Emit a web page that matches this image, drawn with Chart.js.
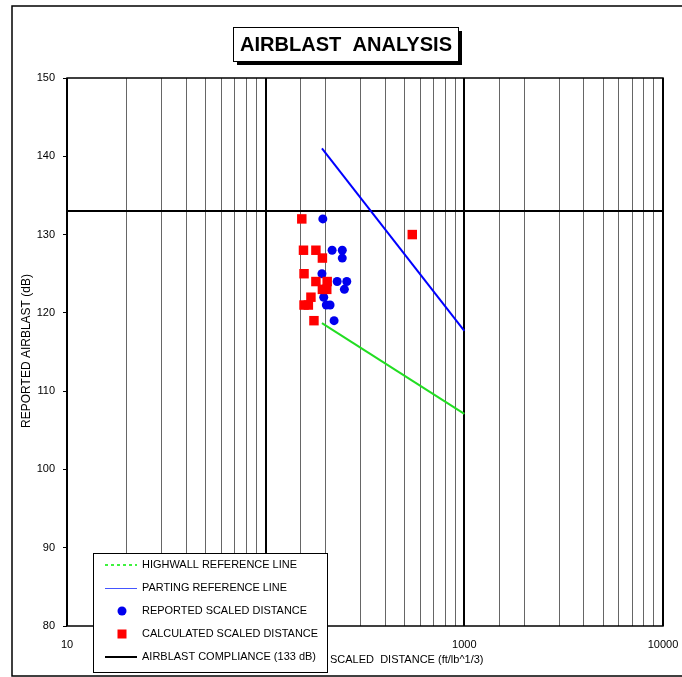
<!DOCTYPE html>
<html>
<head>
<meta charset="utf-8">
<script src="https://cdn.jsdelivr.net/npm/chart.js@4.4.1/dist/chart.umd.min.js"></script>
<style>
  html, body { margin: 0; padding: 0; background: #fff; }
  #wrap { width: 682px; height: 677px; }
</style>
</head>
<body>
<div id="wrap"><canvas id="blastChart" width="682" height="677"></canvas></div>
<script>
// scaled distance (ft/lb^1/3) vs reported airblast (dB)
const reportedX = [194, 216, 243, 243, 192, 229, 256, 249, 196, 202, 211, 221];
const reportedY = [132, 128, 128, 127, 125, 124, 124, 123, 122, 121, 121, 119];

const calculatedX = [152, 547, 155, 179, 193, 156, 179, 204, 193, 203, 169, 156, 164, 175];
const calculatedY = [132, 130, 128, 128, 127, 125, 124, 124, 123, 123, 122, 121, 121, 119];

const highwallX = [192, 1000];
const highwallY = [118.7, 107.1];
const partingX = [192, 1000];
const partingY = [141, 117.7];
const complianceX = [10, 10000];
const complianceY = [133, 133];

const xTickLabels = [10, 100, 1000, 10000];
const yTicks = [80, 90, 100, 110, 120, 130, 140, 150];

const legendLabels = [
    'HIGHWALL REFERENCE LINE',
    'PARTING REFERENCE LINE',
    'REPORTED SCALED DISTANCE',
    'CALCULATED SCALED DISTANCE',
    'AIRBLAST COMPLIANCE (133 dB)'
];

const FONT = '"Liberation Sans", Arial, sans-serif';

function pts(xs, ys) {
    return xs.map((x, i) => ({ x: x, y: ys[i] }));
}

function isDecade(v) {
    const l = Math.log10(v);
    return Math.abs(l - Math.round(l)) < 1e-6;
}

const decorPlugin = {
    id: 'decor',
    beforeDraw(chart) {
        const c = chart.ctx;
        c.save();
        c.fillStyle = '#fff';
        c.fillRect(0, 0, chart.width, chart.height);
        c.restore();
    },
    afterDraw(chart) {
        const c = chart.ctx;
        const a = chart.chartArea;
        c.save();

        // plot border
        c.strokeStyle = '#000';
        c.lineWidth = 1.5;
        c.strokeRect(a.left, a.top, a.right - a.left, a.bottom - a.top);

        // outer frame
        c.lineWidth = 1.5;
        c.strokeRect(12, 6, 700, 670);

        // title box with shadow
        c.fillStyle = '#000';
        c.fillRect(237, 31, 225, 34);
        c.fillStyle = '#fff';
        c.fillRect(233, 27, 225, 34);
        c.lineWidth = 1;
        c.strokeRect(233.5, 27.5, 225, 34);
        c.fillStyle = '#000';
        c.font = 'bold 21px ' + FONT;
        c.textAlign = 'center';
        c.textBaseline = 'middle';
        c.fillText('AIRBLAST  ANALYSIS', 346, 45, 212);

        // axis titles
        c.font = '11px ' + FONT;
        c.textAlign = 'left';
        c.fillText('SCALED  DISTANCE (ft/lb^1/3)', 330, 660, 156);
        c.save();
        c.translate(27, 351);
        c.rotate(-Math.PI / 2);
        c.textAlign = 'center';
        c.font = '12px ' + FONT;
        c.fillText('REPORTED AIRBLAST (dB)', 0, 0, 158);
        c.restore();

        // legend box
        c.fillStyle = '#fff';
        c.fillRect(93, 553, 234, 120);
        c.strokeStyle = '#000';
        c.lineWidth = 1;
        c.strokeRect(93.5, 553.5, 234, 119);

        const rows = [565, 588, 611, 634, 657];
        const widths = [155, 145, 165, 176, 174];
        c.font = '11px ' + FONT;
        c.fillStyle = '#000';
        c.textAlign = 'left';
        c.textBaseline = 'middle';
        legendLabels.forEach((txt, i) => {
            c.fillText(txt, 142, rows[i], widths[i]);
        });

        // symbols
        c.beginPath();
        c.strokeStyle = '#00ee00';
        c.lineWidth = 1.5;
        c.setLineDash([3, 3]);
        c.moveTo(105, rows[0]);
        c.lineTo(137, rows[0]);
        c.stroke();
        c.setLineDash([]);

        c.beginPath();
        c.strokeStyle = '#4455ff';
        c.lineWidth = 1;
        c.moveTo(105, rows[1] + 0.5);
        c.lineTo(137, rows[1] + 0.5);
        c.stroke();

        c.beginPath();
        c.fillStyle = '#0000ee';
        c.arc(122, rows[2], 4.5, 0, Math.PI * 2);
        c.fill();

        c.fillStyle = '#ff0000';
        c.fillRect(117.5, rows[3] - 4.5, 9, 9);

        c.beginPath();
        c.strokeStyle = '#000';
        c.lineWidth = 2;
        c.moveTo(105, rows[4]);
        c.lineTo(137, rows[4]);
        c.stroke();

        c.restore();
    }
};

const ctx = document.getElementById('blastChart').getContext('2d');
const blastChart = new Chart(ctx, {
    type: 'scatter',
    data: {
        datasets: [
            {
                label: legendLabels[0],
                data: pts(highwallX, highwallY),
                showLine: true,
                borderColor: '#22dd22',
                borderWidth: 2,
                pointRadius: 0
            },
            {
                label: legendLabels[1],
                data: pts(partingX, partingY),
                showLine: true,
                borderColor: '#0000ff',
                borderWidth: 2,
                pointRadius: 0
            },
            {
                label: legendLabels[4],
                data: pts(complianceX, complianceY),
                showLine: true,
                borderColor: '#000',
                borderWidth: 2,
                pointRadius: 0
            },
            {
                label: legendLabels[3],
                data: pts(calculatedX, calculatedY),
                pointStyle: 'rect',
                pointRadius: 6.7,
                backgroundColor: '#ff0000',
                borderWidth: 0
            },
            {
                label: legendLabels[2],
                data: pts(reportedX, reportedY),
                pointStyle: 'circle',
                pointRadius: 4.5,
                backgroundColor: '#0000ee',
                borderWidth: 0
            }
        ]
    },
    options: {
        responsive: false,
        animation: false,
        layout: { padding: { left: 0, top: 78, right: 19, bottom: 0 } },
        plugins: {
            legend: { display: false },
            tooltip: { enabled: false }
        },
        scales: {
            x: {
                type: 'logarithmic',
                min: 10,
                max: 10000,
                afterFit(scale) {
                    scale.height = 51;
                    scale.paddingLeft = 0;
                    scale.paddingRight = 0;
                },
                border: { display: false },
                grid: {
                    drawTicks: false,
                    color: (c) => (c.tick && isDecade(c.tick.value)) ? '#000' : '#666',
                    lineWidth: (c) => (c.tick && isDecade(c.tick.value)) ? 2 : 1
                },
                ticks: {
                    autoSkip: false,
                    maxRotation: 0,
                    padding: 12,
                    color: '#000',
                    font: { family: FONT, size: 11 },
                    callback: (v) => xTickLabels.some(t => Math.abs(t - v) < 1e-6) ? String(v) : ''
                }
            },
            y: {
                min: 80,
                max: 150,
                afterFit(scale) {
                    scale.width = 67;
                    scale.paddingTop = 0;
                    scale.paddingBottom = 0;
                },
                afterBuildTicks(scale) { scale.ticks = yTicks.map(v => ({ value: v })); },
                border: { display: false },
                grid: {
                    drawOnChartArea: false,
                    drawTicks: true,
                    tickLength: 4,
                    color: '#000'
                },
                ticks: {
                    padding: 8,
                    color: '#000',
                    font: { family: FONT, size: 11 }
                }
            }
        }
    },
    plugins: [decorPlugin]
});
</script>
</body>
</html>
